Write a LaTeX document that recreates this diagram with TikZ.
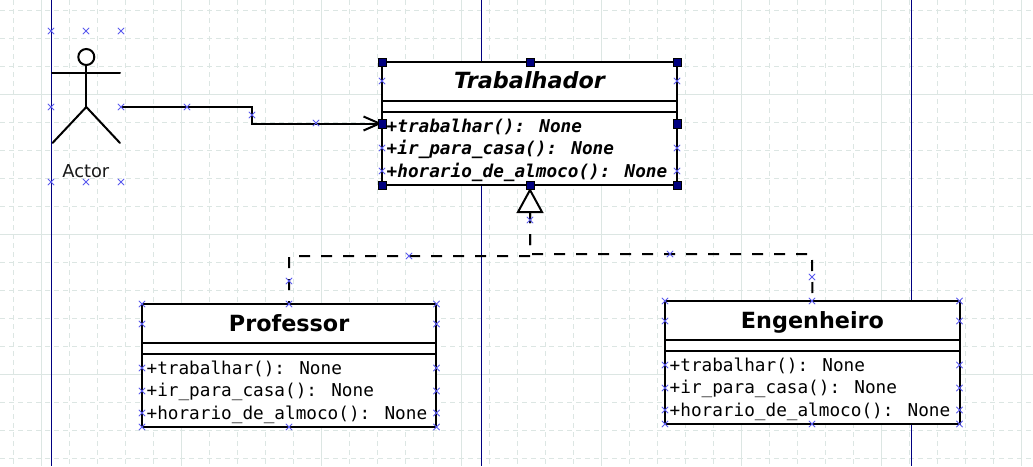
\documentclass[tikz,border=0pt]{standalone}
\usepackage{fontspec}
\setmainfont{DejaVu Sans}
\newfontfamily\monof{DejaVu Sans Mono}
\usetikzlibrary{arrows.meta,calc}
\definecolor{gridcol}{HTML}{DCE6E3}
\definecolor{lifeblue}{HTML}{00007F}
\definecolor{xblue}{HTML}{5A5AEE}
\tikzset{
  x=1pt,y=-1pt,
  gridmajor/.style={draw=gridcol,line width=1pt},
  gridminor/.style={draw=gridcol,line width=1pt,dash pattern=on 5pt off 4pt},
  lifeline/.style={draw=lifeblue,line width=1pt},
  classbox/.style={draw=black,fill=white,line width=2pt,minimum width=295pt,minimum height=123pt,inner sep=0pt,outer sep=0pt},
  rulebar/.style={draw=black,line width=2pt},
  titletext/.style={anchor=base,inner sep=0pt,font=\fontsize{22.3}{23}\selectfont\bfseries},
  rowtext/.style={anchor=base west,inner sep=0pt,font=\fontsize{17.7}{20}\selectfont\monof},
  stick/.style={draw=black,line width=2pt,line cap=round},
  wire/.style={draw=black,line width=2pt},
  dashwire/.style={draw=black,line width=2pt,dash pattern=on 11pt off 11pt},
  handle/.style={draw=black,line width=.5pt,fill=lifeblue,minimum size=8.5pt,inner sep=0pt,outer sep=0pt},
  crosspath/.style={draw=xblue,line width=.8pt},
}
\newcommand\xm[2]{\draw[crosspath] ({#1-3.2},{#2-3.2}) -- ({#1+3.2},{#2+3.2}) ({#1-3.2},{#2+3.2}) -- ({#1+3.2},{#2-3.2});}
% name, centre x, centre y, title, extra font command
\newcommand\umlclass[5]{%
  \node[classbox] (#1) at (#2,#3) {};
  \draw[rulebar] ([yshift=-39pt]#1.north west) -- ([yshift=-39pt]#1.north east);
  \draw[rulebar] ([yshift=-50pt]#1.north west) -- ([yshift=-50pt]#1.north east);
  \node[titletext] (#1title) at ([yshift=-27pt]#1.north) {#5#4};
  \node[rowtext] (#1rowa) at ([xshift=4.5pt,yshift=-70pt]#1.north west) {#5+trabalhar(): None};
  \node[rowtext] (#1rowb) at ([xshift=4.5pt,yshift=-92.7pt]#1.north west) {#5+ir\_para\_casa(): None};
  \node[rowtext] (#1rowc) at ([xshift=4.5pt,yshift=-115pt]#1.north west) {#5+horario\_de\_almoco(): None};
}
\newcommand\classmarks[2]{%
  \foreach \px in {0,294.5}{\foreach \py in {0,20,64,87,109,123}{\xm{#1+\px}{#2+\py}}}
  \xm{#1+147}{#2}\xm{#1+147}{#2+123}
}
\begin{document}
\begin{tikzpicture}
\useasboundingbox (0,0) rectangle (1033,466);
\fill[white] (0,0) rectangle (1033,466);
% grid
\foreach \k in {0,...,35}{\draw[gridminor] ({13.5+28*\k},0) -- ({13.5+28*\k},466);}
\foreach \k in {0,...,16}{\draw[gridminor] (0,{10.5+28*\k}) -- (1033,{10.5+28*\k});}
\foreach \k in {0,...,7}{\draw[gridmajor] ({41.5+140*\k},0) -- ({41.5+140*\k},466);}
\foreach \k in {0,1,2}{\draw[gridmajor] (0,{94.5+140*\k}) -- (1033,{94.5+140*\k});}
% lifelines
\foreach \lx in {51.5,481.5,911.5}{\draw[lifeline] (\lx,0) -- (\lx,466);}
% actor
\node[draw=black,line width=2pt,circle,minimum size=16pt,inner sep=0pt,outer sep=0pt] (head) at (86.3,57) {};
\coordinate (hip) at (86.3,107);
\draw[stick] (head.south) -- (hip);
\draw[stick] (52,73) -- (120,73);
\draw[stick] (52.5,143) -- (hip) -- (120,143);
\node[inner sep=0pt,anchor=base,font=\fontsize{17.8}{18}\selectfont,text=black!90] (actorlabel) at (85.8,177) {Actor};
\coordinate (actorport) at (121,107);
% classes
\begin{scope}
\tikzset{titletext/.append style={yshift=1pt}}
\umlclass{trab}{529.5}{123.5}{Trabalhador}{\bfseries\itshape}
\end{scope}
\begin{scope}
\tikzset{classbox/.append style={minimum width=294.4pt}}
\umlclass{prof}{289.1}{365.5}{Professor}{}
\end{scope}
\umlclass{eng}{812.5}{362.5}{Engenheiro}{}
% connectors
\draw[wire,-{Straight Barb[length=16pt,width=14pt,line width=2pt]}] (actorport) -- (252,107) -- (252,123.5) -- (trab.west);
\coordinate (tribase) at (530,212);
\draw[dashwire] (tribase) -- (530,256) -- (289,256) -- (prof.north);
\draw[dashwire] (tribase) -- (530,254) -- (812,254) -- (eng.north);
\draw[draw=black,fill=white,line width=2pt,line join=miter] (518,212) -- (530,190) -- (542,212) -- cycle;
% handles
\foreach \a/\an/\dx in {a/north west/0,b/north/.8,c/north east/0,d/west/0,e/east/0,f/south west/0,g/south/.8,h/south east/0}{
  \node[handle] (hd\a) at ([xshift=\dx pt]trab.\an) {};
}
% cross marks
\foreach \ax in {51,86,121}{\xm{\ax}{31}\xm{\ax}{182}}
\xm{51}{107}\xm{121}{107}
\xm{187}{107}\xm{252}{115}\xm{316}{123}
\xm{382}{81}\xm{382}{148}\xm{382}{171}\xm{677}{81}\xm{677}{148}\xm{677}{171}
\xm{530}{220}\xm{289}{281}\xm{409}{256}\xm{670}{254}\xm{812}{277}
\classmarks{142}{304}
\classmarks{665}{301}
\end{tikzpicture}
\end{document}
